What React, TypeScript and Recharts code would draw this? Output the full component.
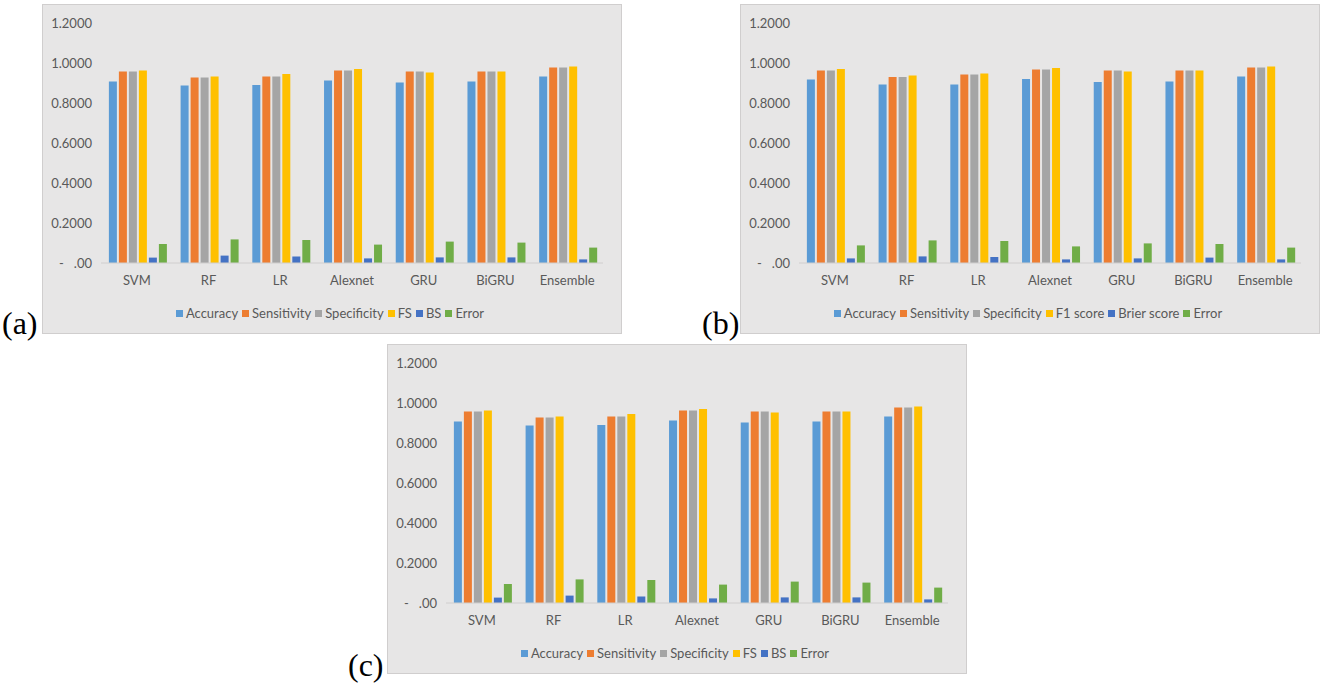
import { Bar, BarChart, Legend, XAxis, YAxis } from "recharts";

const models = ["SVM", "RF", "LR", "Alexnet", "GRU", "BiGRU", "Ensemble"];

// panel (a), panel (c) shows the same numbers
const accuracyA = [0.908, 0.887, 0.89, 0.913, 0.902, 0.907, 0.932];
const sensitivityA = [0.958, 0.927, 0.933, 0.963, 0.957, 0.957, 0.978];
const specificityA = [0.958, 0.927, 0.933, 0.963, 0.957, 0.957, 0.978];
const fsA = [0.963, 0.933, 0.945, 0.97, 0.952, 0.957, 0.982];
const bsA = [0.027, 0.037, 0.033, 0.023, 0.028, 0.028, 0.018];
const errorA = [0.095, 0.118, 0.115, 0.092, 0.107, 0.102, 0.077];

// panel (b)
const accuracyB = [0.917, 0.892, 0.892, 0.92, 0.905, 0.908, 0.932];
const sensitivityB = [0.962, 0.93, 0.942, 0.967, 0.962, 0.962, 0.978];
const specificityB = [0.962, 0.93, 0.942, 0.967, 0.962, 0.962, 0.978];
const f1B = [0.97, 0.937, 0.948, 0.975, 0.957, 0.962, 0.982];
const brierB = [0.023, 0.033, 0.03, 0.018, 0.023, 0.027, 0.018];
const errorB = [0.088, 0.113, 0.11, 0.083, 0.098, 0.095, 0.077];

const namesA = ["Accuracy", "Sensitivity", "Specificity", "FS", "BS", "Error"];
const namesB = ["Accuracy", "Sensitivity", "Specificity", "F1 score", "Brier score", "Error"];
const yTicks = [0, 0.2, 0.4, 0.6, 0.8, 1.0, 1.2];

const colors = ["#5B9BD5", "#ED7D31", "#A5A5A5", "#FFC000", "#4472C4", "#70AD47"];
const textColor = "#595959";
const font = "Lato, 'Open Sans', sans-serif";

const buildRows = (series: number[][]) =>
  models.map((m, i) => {
    const row: any = { model: m };
    series.forEach((s, k) => {
      row["s" + k] = s[i];
    });
    return row;
  });

const fmtTick = (v: number) => (v === 0 ? "-\u00a0\u00a0\u00a0.00" : v.toFixed(4));

const LegendRow = ({ names }: any) => (
  <div
    style={{
      display: "flex",
      justifyContent: "center",
      alignItems: "center",
      height: 20,
      fontFamily: font,
      fontSize: 13,
      color: textColor,
      whiteSpace: "nowrap",
    }}
  >
    {names.map((n: string, i: number) => (
      <span key={n} style={{ display: "flex", alignItems: "center", marginRight: 4 }}>
        <span style={{ width: 7, height: 7, background: colors[i], marginRight: 3 }} />
        {n}
      </span>
    ))}
  </div>
);

const Panel = ({ left, top, names, series }: any) => {
  const data = buildRows(series);
  return (
    <div
      style={{
        position: "absolute",
        left,
        top,
        width: 578,
        height: 328,
        background: "#E7E6E6",
        border: "1px solid #D0CECE",
      }}
    >
      <BarChart
        width={578}
        height={328}
        data={data}
        margin={{ top: 18, right: 18, left: 0, bottom: 10 }}
        barCategoryGap="11%"
        barGap={2}
      >
        <XAxis
          dataKey="model"
          height={40}
          tickLine={false}
          tickSize={0}
          tickMargin={13}
          axisLine={{ stroke: "#D0CECE" }}
          tick={{ fill: textColor, fontSize: 13, fontFamily: font }}
        />
        <YAxis
          width={58}
          domain={[0, 1.2]}
          ticks={yTicks}
          tickFormatter={fmtTick}
          axisLine={false}
          tickLine={false}
          tickSize={0}
          tickMargin={9}
          tick={{ fill: textColor, fontSize: 13, fontFamily: font }}
        />
        <Legend
          verticalAlign="bottom"
          wrapperStyle={{ left: 0, width: 578, height: 20 }}
          content={() => <LegendRow names={names} />}
        />
        {names.map((n: string, k: number) => (
          <Bar key={n} dataKey={"s" + k} name={n} fill={colors[k]} isAnimationActive={false} />
        ))}
      </BarChart>
    </div>
  );
};

const tag = (text: string, left: number, top: number) => (
  <div
    style={{
      position: "absolute",
      left,
      top,
      fontFamily: "'Liberation Serif', 'Times New Roman', serif",
      fontSize: 32,
      lineHeight: "32px",
      color: "#000",
    }}
  >
    {text}
  </div>
);

export default function App() {
  return (
    <div
      style={{
        position: "absolute",
        left: 0,
        top: 0,
        width: 1325,
        height: 686,
        background: "#fff",
        overflow: "hidden",
      }}
    >
      <Panel
        left={42}
        top={4}
        names={namesA}
        series={[accuracyA, sensitivityA, specificityA, fsA, bsA, errorA]}
      />
      <Panel
        left={740}
        top={4}
        names={namesB}
        series={[accuracyB, sensitivityB, specificityB, f1B, brierB, errorB]}
      />
      <Panel
        left={387}
        top={344}
        names={namesA}
        series={[accuracyA, sensitivityA, specificityA, fsA, bsA, errorA]}
      />
      {tag("(a)", 2, 307)}
      {tag("(b)", 702, 307)}
      {tag("(c)", 348, 649)}
    </div>
  );
}
